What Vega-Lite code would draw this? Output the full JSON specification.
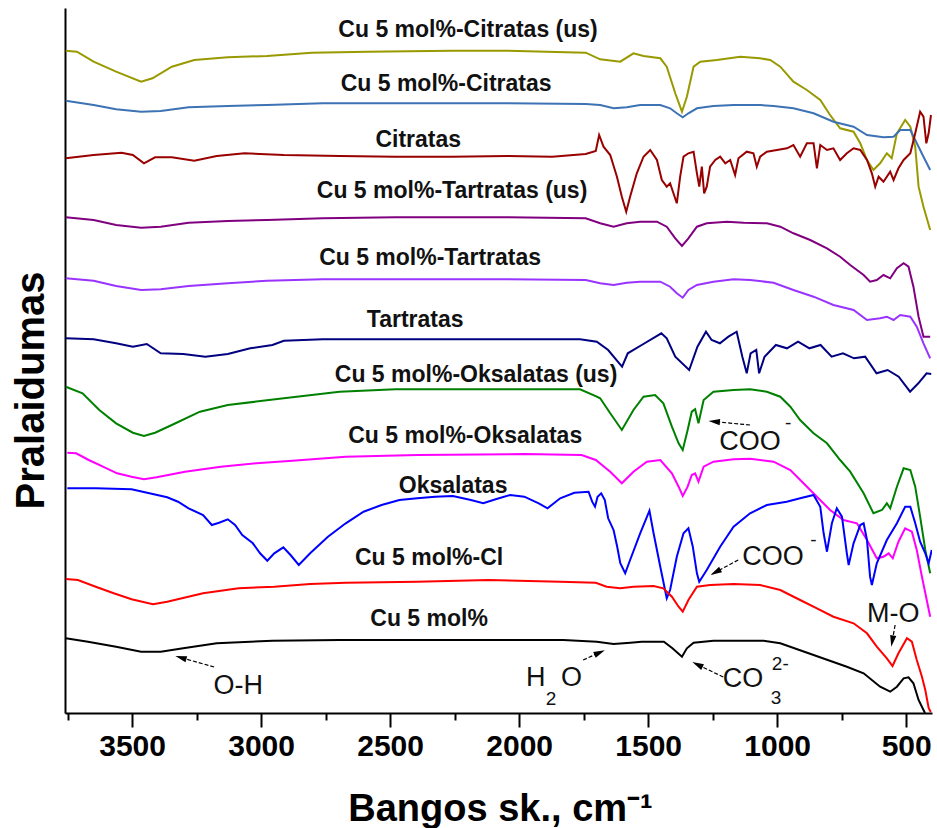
{
"$schema": "https://vega.github.io/schema/vega-lite/v6.json",
"width": 867, "height": 705,
"autosize": {"type": "none"},
"padding": {"left": 65, "top": 8, "right": 5, "bottom": 115},
"background": "white",
"config": {"view": {"stroke": null}, "font": "Liberation Sans"},
"datasets": {
"spectra": [
{"s":"Cu 5 mol%-Citratas (us)","x":3757,"y":662.3},{"s":"Cu 5 mol%-Citratas (us)","x":3714,"y":661.3},{"s":"Cu 5 mol%-Citratas (us)","x":3649,"y":651.3},{"s":"Cu 5 mol%-Citratas (us)","x":3562,"y":641.3},{"s":"Cu 5 mol%-Citratas (us)","x":3465,"y":631.3},{"s":"Cu 5 mol%-Citratas (us)","x":3421,"y":634.7},{"s":"Cu 5 mol%-Citratas (us)","x":3346,"y":646.3},{"s":"Cu 5 mol%-Citratas (us)","x":3259,"y":653},{"s":"Cu 5 mol%-Citratas (us)","x":3129,"y":655.7},{"s":"Cu 5 mol%-Citratas (us)","x":2977,"y":657},{"s":"Cu 5 mol%-Citratas (us)","x":2804,"y":660.3},{"s":"Cu 5 mol%-Citratas (us)","x":2587,"y":661.3},{"s":"Cu 5 mol%-Citratas (us)","x":2262,"y":662.3},{"s":"Cu 5 mol%-Citratas (us)","x":2045,"y":662.3},{"s":"Cu 5 mol%-Citratas (us)","x":1894,"y":661.3},{"s":"Cu 5 mol%-Citratas (us)","x":1742,"y":660.3},{"s":"Cu 5 mol%-Citratas (us)","x":1686,"y":653.7},{"s":"Cu 5 mol%-Citratas (us)","x":1608,"y":651.3},{"s":"Cu 5 mol%-Citratas (us)","x":1557,"y":659.7},{"s":"Cu 5 mol%-Citratas (us)","x":1518,"y":657},{"s":"Cu 5 mol%-Citratas (us)","x":1453,"y":654.7},{"s":"Cu 5 mol%-Citratas (us)","x":1428,"y":646.3},{"s":"Cu 5 mol%-Citratas (us)","x":1395,"y":619.7},{"s":"Cu 5 mol%-Citratas (us)","x":1369,"y":601.3},{"s":"Cu 5 mol%-Citratas (us)","x":1350,"y":616.3},{"s":"Cu 5 mol%-Citratas (us)","x":1324,"y":646.3},{"s":"Cu 5 mol%-Citratas (us)","x":1298,"y":651.3},{"s":"Cu 5 mol%-Citratas (us)","x":1234,"y":653},{"s":"Cu 5 mol%-Citratas (us)","x":1143,"y":656.3},{"s":"Cu 5 mol%-Citratas (us)","x":1066,"y":654.7},{"s":"Cu 5 mol%-Citratas (us)","x":1027,"y":653},{"s":"Cu 5 mol%-Citratas (us)","x":988,"y":646.3},{"s":"Cu 5 mol%-Citratas (us)","x":937,"y":631.3},{"s":"Cu 5 mol%-Citratas (us)","x":885,"y":623},{"s":"Cu 5 mol%-Citratas (us)","x":833,"y":613},{"s":"Cu 5 mol%-Citratas (us)","x":795,"y":598},{"s":"Cu 5 mol%-Citratas (us)","x":756,"y":584.7},{"s":"Cu 5 mol%-Citratas (us)","x":704,"y":581.3},{"s":"Cu 5 mol%-Citratas (us)","x":678,"y":569.7},{"s":"Cu 5 mol%-Citratas (us)","x":652,"y":553},{"s":"Cu 5 mol%-Citratas (us)","x":627,"y":543},{"s":"Cu 5 mol%-Citratas (us)","x":601,"y":549.7},{"s":"Cu 5 mol%-Citratas (us)","x":575,"y":559.7},{"s":"Cu 5 mol%-Citratas (us)","x":556,"y":554.7},{"s":"Cu 5 mol%-Citratas (us)","x":536,"y":579.7},{"s":"Cu 5 mol%-Citratas (us)","x":504,"y":593},{"s":"Cu 5 mol%-Citratas (us)","x":484,"y":586.3},{"s":"Cu 5 mol%-Citratas (us)","x":465,"y":566.3},{"s":"Cu 5 mol%-Citratas (us)","x":452,"y":526.3},{"s":"Cu 5 mol%-Citratas (us)","x":433,"y":506.3},{"s":"Cu 5 mol%-Citratas (us)","x":407,"y":483},

{"s":"Cu 5 mol%-Citratas","x":3757,"y":612.3},{"s":"Cu 5 mol%-Citratas","x":3649,"y":608},{"s":"Cu 5 mol%-Citratas","x":3562,"y":603.7},{"s":"Cu 5 mol%-Citratas","x":3465,"y":601.3},{"s":"Cu 5 mol%-Citratas","x":3389,"y":602},{"s":"Cu 5 mol%-Citratas","x":3281,"y":605.7},{"s":"Cu 5 mol%-Citratas","x":3129,"y":607},{"s":"Cu 5 mol%-Citratas","x":2977,"y":608},{"s":"Cu 5 mol%-Citratas","x":2761,"y":609.7},{"s":"Cu 5 mol%-Citratas","x":2479,"y":609.7},{"s":"Cu 5 mol%-Citratas","x":2045,"y":609.7},{"s":"Cu 5 mol%-Citratas","x":1742,"y":609},{"s":"Cu 5 mol%-Citratas","x":1686,"y":608},{"s":"Cu 5 mol%-Citratas","x":1634,"y":604.7},{"s":"Cu 5 mol%-Citratas","x":1583,"y":605.7},{"s":"Cu 5 mol%-Citratas","x":1531,"y":608},{"s":"Cu 5 mol%-Citratas","x":1453,"y":608},{"s":"Cu 5 mol%-Citratas","x":1415,"y":604.7},{"s":"Cu 5 mol%-Citratas","x":1389,"y":599.7},{"s":"Cu 5 mol%-Citratas","x":1366,"y":595.7},{"s":"Cu 5 mol%-Citratas","x":1344,"y":599.7},{"s":"Cu 5 mol%-Citratas","x":1311,"y":604.7},{"s":"Cu 5 mol%-Citratas","x":1247,"y":607},{"s":"Cu 5 mol%-Citratas","x":1169,"y":608},{"s":"Cu 5 mol%-Citratas","x":1066,"y":608},{"s":"Cu 5 mol%-Citratas","x":1014,"y":607},{"s":"Cu 5 mol%-Citratas","x":937,"y":604.7},{"s":"Cu 5 mol%-Citratas","x":859,"y":599.7},{"s":"Cu 5 mol%-Citratas","x":782,"y":591.3},{"s":"Cu 5 mol%-Citratas","x":704,"y":586.3},{"s":"Cu 5 mol%-Citratas","x":652,"y":578},{"s":"Cu 5 mol%-Citratas","x":588,"y":575.7},{"s":"Cu 5 mol%-Citratas","x":549,"y":576.3},{"s":"Cu 5 mol%-Citratas","x":523,"y":583},{"s":"Cu 5 mol%-Citratas","x":484,"y":583},{"s":"Cu 5 mol%-Citratas","x":465,"y":573},{"s":"Cu 5 mol%-Citratas","x":433,"y":556.3},{"s":"Cu 5 mol%-Citratas","x":407,"y":543},

{"s":"Citratas","x":3757,"y":554.7},{"s":"Citratas","x":3649,"y":558},{"s":"Citratas","x":3541,"y":560.3},{"s":"Citratas","x":3497,"y":558},{"s":"Citratas","x":3454,"y":549.7},{"s":"Citratas","x":3411,"y":555.7},{"s":"Citratas","x":3346,"y":555.7},{"s":"Citratas","x":3259,"y":552.3},{"s":"Citratas","x":3172,"y":557},{"s":"Citratas","x":3064,"y":559.7},{"s":"Citratas","x":2912,"y":558},{"s":"Citratas","x":2696,"y":557},{"s":"Citratas","x":2479,"y":556.3},{"s":"Citratas","x":2262,"y":556.3},{"s":"Citratas","x":2045,"y":557},{"s":"Citratas","x":1872,"y":556.3},{"s":"Citratas","x":1742,"y":559},{"s":"Citratas","x":1703,"y":562},{"s":"Citratas","x":1690,"y":578},{"s":"Citratas","x":1673,"y":566.3},{"s":"Citratas","x":1647,"y":558},{"s":"Citratas","x":1621,"y":536.3},{"s":"Citratas","x":1602,"y":516.3},{"s":"Citratas","x":1585,"y":501.3},{"s":"Citratas","x":1570,"y":516.3},{"s":"Citratas","x":1544,"y":539.7},{"s":"Citratas","x":1518,"y":556.3},{"s":"Citratas","x":1492,"y":563},{"s":"Citratas","x":1466,"y":553},{"s":"Citratas","x":1447,"y":533},{"s":"Citratas","x":1428,"y":526.3},{"s":"Citratas","x":1415,"y":529.7},{"s":"Citratas","x":1402,"y":519.7},{"s":"Citratas","x":1389,"y":509.7},{"s":"Citratas","x":1376,"y":536.3},{"s":"Citratas","x":1363,"y":556.3},{"s":"Citratas","x":1344,"y":559.7},{"s":"Citratas","x":1324,"y":561.3},{"s":"Citratas","x":1311,"y":539.7},{"s":"Citratas","x":1302,"y":526.3},{"s":"Citratas","x":1292,"y":546.3},{"s":"Citratas","x":1283,"y":519.7},{"s":"Citratas","x":1273,"y":526.3},{"s":"Citratas","x":1260,"y":546.3},{"s":"Citratas","x":1240,"y":553},{"s":"Citratas","x":1221,"y":556.3},{"s":"Citratas","x":1201,"y":549.7},{"s":"Citratas","x":1182,"y":553},{"s":"Citratas","x":1163,"y":538},{"s":"Citratas","x":1150,"y":554.7},{"s":"Citratas","x":1118,"y":561.3},{"s":"Citratas","x":1092,"y":559.7},{"s":"Citratas","x":1079,"y":546.3},{"s":"Citratas","x":1066,"y":556.3},{"s":"Citratas","x":1040,"y":561.3},{"s":"Citratas","x":1001,"y":563},{"s":"Citratas","x":962,"y":564.7},{"s":"Citratas","x":937,"y":568},{"s":"Citratas","x":911,"y":556.3},{"s":"Citratas","x":885,"y":569.7},{"s":"Citratas","x":859,"y":569.7},{"s":"Citratas","x":846,"y":544.7},{"s":"Citratas","x":833,"y":568},{"s":"Citratas","x":807,"y":563},{"s":"Citratas","x":782,"y":564.7},{"s":"Citratas","x":756,"y":553},{"s":"Citratas","x":730,"y":559.7},{"s":"Citratas","x":704,"y":564.7},{"s":"Citratas","x":678,"y":563},{"s":"Citratas","x":652,"y":553},{"s":"Citratas","x":633,"y":539.7},{"s":"Citratas","x":620,"y":526.3},{"s":"Citratas","x":607,"y":536.3},{"s":"Citratas","x":588,"y":531.3},{"s":"Citratas","x":562,"y":541.3},{"s":"Citratas","x":549,"y":533},{"s":"Citratas","x":530,"y":544.7},{"s":"Citratas","x":510,"y":553},{"s":"Citratas","x":484,"y":559.7},{"s":"Citratas","x":465,"y":579.7},{"s":"Citratas","x":446,"y":601.3},{"s":"Citratas","x":433,"y":596.3},{"s":"Citratas","x":422,"y":569.7},{"s":"Citratas","x":413,"y":579.7},{"s":"Citratas","x":404,"y":598},

{"s":"Cu 5 mol%-Tartratas (us)","x":3757,"y":495.7},{"s":"Cu 5 mol%-Tartratas (us)","x":3649,"y":493},{"s":"Cu 5 mol%-Tartratas (us)","x":3562,"y":488},{"s":"Cu 5 mol%-Tartratas (us)","x":3465,"y":485.3},{"s":"Cu 5 mol%-Tartratas (us)","x":3389,"y":486.3},{"s":"Cu 5 mol%-Tartratas (us)","x":3281,"y":490.3},{"s":"Cu 5 mol%-Tartratas (us)","x":3129,"y":492},{"s":"Cu 5 mol%-Tartratas (us)","x":2977,"y":493},{"s":"Cu 5 mol%-Tartratas (us)","x":2761,"y":494.7},{"s":"Cu 5 mol%-Tartratas (us)","x":2479,"y":495.7},{"s":"Cu 5 mol%-Tartratas (us)","x":2045,"y":495.7},{"s":"Cu 5 mol%-Tartratas (us)","x":1742,"y":494.7},{"s":"Cu 5 mol%-Tartratas (us)","x":1686,"y":489.7},{"s":"Cu 5 mol%-Tartratas (us)","x":1634,"y":486.3},{"s":"Cu 5 mol%-Tartratas (us)","x":1583,"y":489.7},{"s":"Cu 5 mol%-Tartratas (us)","x":1531,"y":491.3},{"s":"Cu 5 mol%-Tartratas (us)","x":1466,"y":491.3},{"s":"Cu 5 mol%-Tartratas (us)","x":1428,"y":486.3},{"s":"Cu 5 mol%-Tartratas (us)","x":1395,"y":474.7},{"s":"Cu 5 mol%-Tartratas (us)","x":1369,"y":467},{"s":"Cu 5 mol%-Tartratas (us)","x":1344,"y":474.7},{"s":"Cu 5 mol%-Tartratas (us)","x":1311,"y":486.3},{"s":"Cu 5 mol%-Tartratas (us)","x":1273,"y":489.7},{"s":"Cu 5 mol%-Tartratas (us)","x":1195,"y":491.3},{"s":"Cu 5 mol%-Tartratas (us)","x":1130,"y":490.3},{"s":"Cu 5 mol%-Tartratas (us)","x":1040,"y":489.7},{"s":"Cu 5 mol%-Tartratas (us)","x":988,"y":486.3},{"s":"Cu 5 mol%-Tartratas (us)","x":937,"y":479.7},{"s":"Cu 5 mol%-Tartratas (us)","x":872,"y":473},{"s":"Cu 5 mol%-Tartratas (us)","x":807,"y":464.7},{"s":"Cu 5 mol%-Tartratas (us)","x":756,"y":456.3},{"s":"Cu 5 mol%-Tartratas (us)","x":717,"y":448},{"s":"Cu 5 mol%-Tartratas (us)","x":665,"y":438},{"s":"Cu 5 mol%-Tartratas (us)","x":640,"y":431.3},{"s":"Cu 5 mol%-Tartratas (us)","x":614,"y":433},{"s":"Cu 5 mol%-Tartratas (us)","x":588,"y":438},{"s":"Cu 5 mol%-Tartratas (us)","x":562,"y":434.7},{"s":"Cu 5 mol%-Tartratas (us)","x":536,"y":444.7},{"s":"Cu 5 mol%-Tartratas (us)","x":510,"y":449.7},{"s":"Cu 5 mol%-Tartratas (us)","x":491,"y":446.3},{"s":"Cu 5 mol%-Tartratas (us)","x":472,"y":426.3},{"s":"Cu 5 mol%-Tartratas (us)","x":452,"y":396.3},{"s":"Cu 5 mol%-Tartratas (us)","x":433,"y":376.3},{"s":"Cu 5 mol%-Tartratas (us)","x":407,"y":376.3},

{"s":"Cu 5 mol%-Tartratas","x":3757,"y":434.7},{"s":"Cu 5 mol%-Tartratas","x":3649,"y":432.3},{"s":"Cu 5 mol%-Tartratas","x":3562,"y":427},{"s":"Cu 5 mol%-Tartratas","x":3465,"y":423},{"s":"Cu 5 mol%-Tartratas","x":3389,"y":423.7},{"s":"Cu 5 mol%-Tartratas","x":3281,"y":427},{"s":"Cu 5 mol%-Tartratas","x":3129,"y":429.7},{"s":"Cu 5 mol%-Tartratas","x":2977,"y":432.3},{"s":"Cu 5 mol%-Tartratas","x":2761,"y":433.7},{"s":"Cu 5 mol%-Tartratas","x":2479,"y":433.7},{"s":"Cu 5 mol%-Tartratas","x":2045,"y":433.7},{"s":"Cu 5 mol%-Tartratas","x":1742,"y":433},{"s":"Cu 5 mol%-Tartratas","x":1686,"y":429.7},{"s":"Cu 5 mol%-Tartratas","x":1634,"y":428},{"s":"Cu 5 mol%-Tartratas","x":1583,"y":430.3},{"s":"Cu 5 mol%-Tartratas","x":1531,"y":431.3},{"s":"Cu 5 mol%-Tartratas","x":1453,"y":431.3},{"s":"Cu 5 mol%-Tartratas","x":1415,"y":426.3},{"s":"Cu 5 mol%-Tartratas","x":1389,"y":419.7},{"s":"Cu 5 mol%-Tartratas","x":1366,"y":415.3},{"s":"Cu 5 mol%-Tartratas","x":1344,"y":423},{"s":"Cu 5 mol%-Tartratas","x":1311,"y":428},{"s":"Cu 5 mol%-Tartratas","x":1247,"y":431.3},{"s":"Cu 5 mol%-Tartratas","x":1169,"y":433.7},{"s":"Cu 5 mol%-Tartratas","x":1105,"y":433},{"s":"Cu 5 mol%-Tartratas","x":1014,"y":430.3},{"s":"Cu 5 mol%-Tartratas","x":937,"y":423},{"s":"Cu 5 mol%-Tartratas","x":859,"y":416.3},{"s":"Cu 5 mol%-Tartratas","x":782,"y":408},{"s":"Cu 5 mol%-Tartratas","x":704,"y":403},{"s":"Cu 5 mol%-Tartratas","x":652,"y":393},{"s":"Cu 5 mol%-Tartratas","x":601,"y":394.7},{"s":"Cu 5 mol%-Tartratas","x":575,"y":396.3},{"s":"Cu 5 mol%-Tartratas","x":549,"y":393},{"s":"Cu 5 mol%-Tartratas","x":523,"y":398},{"s":"Cu 5 mol%-Tartratas","x":484,"y":396.3},{"s":"Cu 5 mol%-Tartratas","x":459,"y":386.3},{"s":"Cu 5 mol%-Tartratas","x":433,"y":369.7},{"s":"Cu 5 mol%-Tartratas","x":407,"y":354.7},

{"s":"Tartratas","x":3757,"y":374.7},{"s":"Tartratas","x":3649,"y":373.7},{"s":"Tartratas","x":3562,"y":369.7},{"s":"Tartratas","x":3497,"y":366.3},{"s":"Tartratas","x":3443,"y":369},{"s":"Tartratas","x":3389,"y":359.7},{"s":"Tartratas","x":3302,"y":359},{"s":"Tartratas","x":3216,"y":356.3},{"s":"Tartratas","x":3129,"y":359},{"s":"Tartratas","x":3042,"y":364.7},{"s":"Tartratas","x":2956,"y":368},{"s":"Tartratas","x":2912,"y":372.3},{"s":"Tartratas","x":2761,"y":373.7},{"s":"Tartratas","x":2479,"y":373.7},{"s":"Tartratas","x":2045,"y":373.7},{"s":"Tartratas","x":1764,"y":373.7},{"s":"Tartratas","x":1699,"y":371.3},{"s":"Tartratas","x":1655,"y":363},{"s":"Tartratas","x":1612,"y":349.7},{"s":"Tartratas","x":1601,"y":346.3},{"s":"Tartratas","x":1579,"y":359.7},{"s":"Tartratas","x":1525,"y":368},{"s":"Tartratas","x":1449,"y":379.7},{"s":"Tartratas","x":1428,"y":374.7},{"s":"Tartratas","x":1395,"y":356.3},{"s":"Tartratas","x":1341,"y":343},{"s":"Tartratas","x":1309,"y":366.3},{"s":"Tartratas","x":1276,"y":381.3},{"s":"Tartratas","x":1254,"y":373},{"s":"Tartratas","x":1222,"y":369.7},{"s":"Tartratas","x":1189,"y":376.3},{"s":"Tartratas","x":1157,"y":381.3},{"s":"Tartratas","x":1135,"y":356.3},{"s":"Tartratas","x":1118,"y":339.7},{"s":"Tartratas","x":1103,"y":359.7},{"s":"Tartratas","x":1081,"y":363},{"s":"Tartratas","x":1070,"y":339.7},{"s":"Tartratas","x":1049,"y":356.3},{"s":"Tartratas","x":1005,"y":368},{"s":"Tartratas","x":962,"y":364.7},{"s":"Tartratas","x":919,"y":371.3},{"s":"Tartratas","x":875,"y":364.7},{"s":"Tartratas","x":832,"y":368},{"s":"Tartratas","x":789,"y":356.3},{"s":"Tartratas","x":745,"y":359.7},{"s":"Tartratas","x":702,"y":354.7},{"s":"Tartratas","x":659,"y":356.3},{"s":"Tartratas","x":615,"y":339.7},{"s":"Tartratas","x":572,"y":343},{"s":"Tartratas","x":529,"y":336.3},{"s":"Tartratas","x":485,"y":321.3},{"s":"Tartratas","x":453,"y":329.7},{"s":"Tartratas","x":421,"y":339.7},{"s":"Tartratas","x":403,"y":339},

{"s":"Cu 5 mol%-Oksalatas (us)","x":3757,"y":326.3},{"s":"Cu 5 mol%-Oksalatas (us)","x":3692,"y":319.7},{"s":"Cu 5 mol%-Oksalatas (us)","x":3627,"y":303},{"s":"Cu 5 mol%-Oksalatas (us)","x":3562,"y":289.7},{"s":"Cu 5 mol%-Oksalatas (us)","x":3497,"y":280.3},{"s":"Cu 5 mol%-Oksalatas (us)","x":3454,"y":277},{"s":"Cu 5 mol%-Oksalatas (us)","x":3411,"y":280.3},{"s":"Cu 5 mol%-Oksalatas (us)","x":3346,"y":288},{"s":"Cu 5 mol%-Oksalatas (us)","x":3237,"y":301.3},{"s":"Cu 5 mol%-Oksalatas (us)","x":3129,"y":308},{"s":"Cu 5 mol%-Oksalatas (us)","x":2912,"y":314.7},{"s":"Cu 5 mol%-Oksalatas (us)","x":2696,"y":321.3},{"s":"Cu 5 mol%-Oksalatas (us)","x":2479,"y":323.7},{"s":"Cu 5 mol%-Oksalatas (us)","x":2045,"y":323.7},{"s":"Cu 5 mol%-Oksalatas (us)","x":1764,"y":323.7},{"s":"Cu 5 mol%-Oksalatas (us)","x":1699,"y":316.3},{"s":"Cu 5 mol%-Oksalatas (us)","x":1686,"y":314.7},{"s":"Cu 5 mol%-Oksalatas (us)","x":1647,"y":299.7},{"s":"Cu 5 mol%-Oksalatas (us)","x":1602,"y":283},{"s":"Cu 5 mol%-Oksalatas (us)","x":1557,"y":303},{"s":"Cu 5 mol%-Oksalatas (us)","x":1518,"y":316.3},{"s":"Cu 5 mol%-Oksalatas (us)","x":1473,"y":318},{"s":"Cu 5 mol%-Oksalatas (us)","x":1441,"y":309.7},{"s":"Cu 5 mol%-Oksalatas (us)","x":1408,"y":286.3},{"s":"Cu 5 mol%-Oksalatas (us)","x":1382,"y":269.7},{"s":"Cu 5 mol%-Oksalatas (us)","x":1366,"y":263},{"s":"Cu 5 mol%-Oksalatas (us)","x":1347,"y":283},{"s":"Cu 5 mol%-Oksalatas (us)","x":1331,"y":301.3},{"s":"Cu 5 mol%-Oksalatas (us)","x":1318,"y":303.7},{"s":"Cu 5 mol%-Oksalatas (us)","x":1305,"y":289.7},{"s":"Cu 5 mol%-Oksalatas (us)","x":1285,"y":313},{"s":"Cu 5 mol%-Oksalatas (us)","x":1247,"y":321.3},{"s":"Cu 5 mol%-Oksalatas (us)","x":1169,"y":323},{"s":"Cu 5 mol%-Oksalatas (us)","x":1105,"y":323.7},{"s":"Cu 5 mol%-Oksalatas (us)","x":1040,"y":321.3},{"s":"Cu 5 mol%-Oksalatas (us)","x":988,"y":316.3},{"s":"Cu 5 mol%-Oksalatas (us)","x":949,"y":306.3},{"s":"Cu 5 mol%-Oksalatas (us)","x":911,"y":293},{"s":"Cu 5 mol%-Oksalatas (us)","x":859,"y":279.7},{"s":"Cu 5 mol%-Oksalatas (us)","x":807,"y":269.7},{"s":"Cu 5 mol%-Oksalatas (us)","x":756,"y":253},{"s":"Cu 5 mol%-Oksalatas (us)","x":717,"y":241.3},{"s":"Cu 5 mol%-Oksalatas (us)","x":665,"y":219.7},{"s":"Cu 5 mol%-Oksalatas (us)","x":627,"y":199.7},{"s":"Cu 5 mol%-Oksalatas (us)","x":594,"y":203},{"s":"Cu 5 mol%-Oksalatas (us)","x":575,"y":209.7},{"s":"Cu 5 mol%-Oksalatas (us)","x":562,"y":204.7},{"s":"Cu 5 mol%-Oksalatas (us)","x":536,"y":226.3},{"s":"Cu 5 mol%-Oksalatas (us)","x":510,"y":244.7},{"s":"Cu 5 mol%-Oksalatas (us)","x":484,"y":243},{"s":"Cu 5 mol%-Oksalatas (us)","x":465,"y":226.3},{"s":"Cu 5 mol%-Oksalatas (us)","x":446,"y":196.3},{"s":"Cu 5 mol%-Oksalatas (us)","x":426,"y":163},{"s":"Cu 5 mol%-Oksalatas (us)","x":407,"y":139.7},

{"s":"Cu 5 mol%-Oksalatas","x":3751,"y":260.3},{"s":"Cu 5 mol%-Oksalatas","x":3717,"y":259.7},{"s":"Cu 5 mol%-Oksalatas","x":3668,"y":253},{"s":"Cu 5 mol%-Oksalatas","x":3613,"y":246.3},{"s":"Cu 5 mol%-Oksalatas","x":3558,"y":239.7},{"s":"Cu 5 mol%-Oksalatas","x":3502,"y":236.3},{"s":"Cu 5 mol%-Oksalatas","x":3454,"y":233.7},{"s":"Cu 5 mol%-Oksalatas","x":3405,"y":235.7},{"s":"Cu 5 mol%-Oksalatas","x":3295,"y":241.3},{"s":"Cu 5 mol%-Oksalatas","x":3156,"y":246.3},{"s":"Cu 5 mol%-Oksalatas","x":3018,"y":249.7},{"s":"Cu 5 mol%-Oksalatas","x":2879,"y":252.3},{"s":"Cu 5 mol%-Oksalatas","x":2672,"y":256.3},{"s":"Cu 5 mol%-Oksalatas","x":2395,"y":258},{"s":"Cu 5 mol%-Oksalatas","x":1980,"y":259},{"s":"Cu 5 mol%-Oksalatas","x":1758,"y":258},{"s":"Cu 5 mol%-Oksalatas","x":1703,"y":253},{"s":"Cu 5 mol%-Oksalatas","x":1647,"y":241.3},{"s":"Cu 5 mol%-Oksalatas","x":1602,"y":229.7},{"s":"Cu 5 mol%-Oksalatas","x":1557,"y":241.3},{"s":"Cu 5 mol%-Oksalatas","x":1505,"y":251.3},{"s":"Cu 5 mol%-Oksalatas","x":1453,"y":253},{"s":"Cu 5 mol%-Oksalatas","x":1408,"y":239.7},{"s":"Cu 5 mol%-Oksalatas","x":1382,"y":226.3},{"s":"Cu 5 mol%-Oksalatas","x":1366,"y":217},{"s":"Cu 5 mol%-Oksalatas","x":1347,"y":226.3},{"s":"Cu 5 mol%-Oksalatas","x":1331,"y":238},{"s":"Cu 5 mol%-Oksalatas","x":1318,"y":239.7},{"s":"Cu 5 mol%-Oksalatas","x":1305,"y":231.3},{"s":"Cu 5 mol%-Oksalatas","x":1285,"y":246.3},{"s":"Cu 5 mol%-Oksalatas","x":1247,"y":251.3},{"s":"Cu 5 mol%-Oksalatas","x":1169,"y":253.7},{"s":"Cu 5 mol%-Oksalatas","x":1105,"y":254.3},{"s":"Cu 5 mol%-Oksalatas","x":1014,"y":251.3},{"s":"Cu 5 mol%-Oksalatas","x":949,"y":243},{"s":"Cu 5 mol%-Oksalatas","x":898,"y":229.7},{"s":"Cu 5 mol%-Oksalatas","x":846,"y":216.3},{"s":"Cu 5 mol%-Oksalatas","x":795,"y":203},{"s":"Cu 5 mol%-Oksalatas","x":743,"y":193},{"s":"Cu 5 mol%-Oksalatas","x":691,"y":189.7},{"s":"Cu 5 mol%-Oksalatas","x":652,"y":173},{"s":"Cu 5 mol%-Oksalatas","x":614,"y":154.7},{"s":"Cu 5 mol%-Oksalatas","x":588,"y":156.3},{"s":"Cu 5 mol%-Oksalatas","x":568,"y":159.7},{"s":"Cu 5 mol%-Oksalatas","x":552,"y":154.7},{"s":"Cu 5 mol%-Oksalatas","x":530,"y":171.3},{"s":"Cu 5 mol%-Oksalatas","x":504,"y":184.7},{"s":"Cu 5 mol%-Oksalatas","x":478,"y":181.3},{"s":"Cu 5 mol%-Oksalatas","x":459,"y":163},{"s":"Cu 5 mol%-Oksalatas","x":439,"y":136.3},{"s":"Cu 5 mol%-Oksalatas","x":407,"y":96.3},

{"s":"Oksalatas","x":3751,"y":224.7},{"s":"Oksalatas","x":3641,"y":224.7},{"s":"Oksalatas","x":3502,"y":223.7},{"s":"Oksalatas","x":3433,"y":219.7},{"s":"Oksalatas","x":3364,"y":215.7},{"s":"Oksalatas","x":3322,"y":211.3},{"s":"Oksalatas","x":3281,"y":204.7},{"s":"Oksalatas","x":3225,"y":198},{"s":"Oksalatas","x":3191,"y":188},{"s":"Oksalatas","x":3163,"y":190.3},{"s":"Oksalatas","x":3129,"y":193.7},{"s":"Oksalatas","x":3101,"y":188},{"s":"Oksalatas","x":3073,"y":178},{"s":"Oksalatas","x":3032,"y":169.7},{"s":"Oksalatas","x":3004,"y":159.7},{"s":"Oksalatas","x":2976,"y":152.3},{"s":"Oksalatas","x":2949,"y":159.7},{"s":"Oksalatas","x":2914,"y":165.7},{"s":"Oksalatas","x":2886,"y":158},{"s":"Oksalatas","x":2854,"y":148},{"s":"Oksalatas","x":2810,"y":159.7},{"s":"Oksalatas","x":2741,"y":176.3},{"s":"Oksalatas","x":2672,"y":189.7},{"s":"Oksalatas","x":2603,"y":201.3},{"s":"Oksalatas","x":2533,"y":208},{"s":"Oksalatas","x":2464,"y":213},{"s":"Oksalatas","x":2395,"y":214.7},{"s":"Oksalatas","x":2326,"y":216.3},{"s":"Oksalatas","x":2257,"y":217},{"s":"Oksalatas","x":2187,"y":213},{"s":"Oksalatas","x":2139,"y":209.7},{"s":"Oksalatas","x":2091,"y":213.7},{"s":"Oksalatas","x":2035,"y":218},{"s":"Oksalatas","x":1980,"y":216.3},{"s":"Oksalatas","x":1924,"y":209.7},{"s":"Oksalatas","x":1890,"y":204.7},{"s":"Oksalatas","x":1841,"y":214.7},{"s":"Oksalatas","x":1786,"y":220.3},{"s":"Oksalatas","x":1731,"y":221.3},{"s":"Oksalatas","x":1717,"y":211.3},{"s":"Oksalatas","x":1706,"y":206.3},{"s":"Oksalatas","x":1696,"y":216.3},{"s":"Oksalatas","x":1682,"y":219.7},{"s":"Oksalatas","x":1668,"y":213},{"s":"Oksalatas","x":1655,"y":194.7},{"s":"Oksalatas","x":1634,"y":183},{"s":"Oksalatas","x":1620,"y":166.3},{"s":"Oksalatas","x":1608,"y":149.7},{"s":"Oksalatas","x":1589,"y":139.7},{"s":"Oksalatas","x":1570,"y":153},{"s":"Oksalatas","x":1531,"y":179.7},{"s":"Oksalatas","x":1495,"y":202.3},{"s":"Oksalatas","x":1479,"y":179.7},{"s":"Oksalatas","x":1453,"y":146.3},{"s":"Oksalatas","x":1428,"y":114.7},{"s":"Oksalatas","x":1415,"y":123},{"s":"Oksalatas","x":1389,"y":156.3},{"s":"Oksalatas","x":1363,"y":179.7},{"s":"Oksalatas","x":1344,"y":184.7},{"s":"Oksalatas","x":1327,"y":166.3},{"s":"Oksalatas","x":1311,"y":139.7},{"s":"Oksalatas","x":1302,"y":131.3},{"s":"Oksalatas","x":1273,"y":143},{"s":"Oksalatas","x":1221,"y":166.3},{"s":"Oksalatas","x":1169,"y":186.3},{"s":"Oksalatas","x":1105,"y":199.7},{"s":"Oksalatas","x":1040,"y":208},{"s":"Oksalatas","x":963,"y":211.3},{"s":"Oksalatas","x":911,"y":214.7},{"s":"Oksalatas","x":859,"y":218},{"s":"Oksalatas","x":833,"y":206.3},{"s":"Oksalatas","x":820,"y":179.7},{"s":"Oksalatas","x":807,"y":161.3},{"s":"Oksalatas","x":788,"y":189.7},{"s":"Oksalatas","x":769,"y":204.7},{"s":"Oksalatas","x":749,"y":196.3},{"s":"Oksalatas","x":730,"y":159.7},{"s":"Oksalatas","x":723,"y":148},{"s":"Oksalatas","x":704,"y":169.7},{"s":"Oksalatas","x":678,"y":188},{"s":"Oksalatas","x":665,"y":189.7},{"s":"Oksalatas","x":652,"y":173},{"s":"Oksalatas","x":640,"y":136.3},{"s":"Oksalatas","x":633,"y":128},{"s":"Oksalatas","x":614,"y":149.7},{"s":"Oksalatas","x":575,"y":173},{"s":"Oksalatas","x":536,"y":189.7},{"s":"Oksalatas","x":504,"y":206.3},{"s":"Oksalatas","x":484,"y":206.3},{"s":"Oksalatas","x":465,"y":189.7},{"s":"Oksalatas","x":446,"y":171.3},{"s":"Oksalatas","x":426,"y":159.7},{"s":"Oksalatas","x":413,"y":149.7},{"s":"Oksalatas","x":401,"y":163},

{"s":"Cu 5 mol%-Cl","x":3757,"y":134},{"s":"Cu 5 mol%-Cl","x":3710,"y":133},{"s":"Cu 5 mol%-Cl","x":3641,"y":126.3},{"s":"Cu 5 mol%-Cl","x":3571,"y":119.7},{"s":"Cu 5 mol%-Cl","x":3502,"y":113.7},{"s":"Cu 5 mol%-Cl","x":3419,"y":108.7},{"s":"Cu 5 mol%-Cl","x":3364,"y":111.3},{"s":"Cu 5 mol%-Cl","x":3225,"y":119.7},{"s":"Cu 5 mol%-Cl","x":3087,"y":124.7},{"s":"Cu 5 mol%-Cl","x":2949,"y":126.3},{"s":"Cu 5 mol%-Cl","x":2810,"y":129},{"s":"Cu 5 mol%-Cl","x":2672,"y":130.3},{"s":"Cu 5 mol%-Cl","x":2395,"y":131.3},{"s":"Cu 5 mol%-Cl","x":2118,"y":133},{"s":"Cu 5 mol%-Cl","x":1841,"y":131.3},{"s":"Cu 5 mol%-Cl","x":1703,"y":130.3},{"s":"Cu 5 mol%-Cl","x":1661,"y":126.3},{"s":"Cu 5 mol%-Cl","x":1608,"y":124.7},{"s":"Cu 5 mol%-Cl","x":1557,"y":126.3},{"s":"Cu 5 mol%-Cl","x":1479,"y":127},{"s":"Cu 5 mol%-Cl","x":1441,"y":124.7},{"s":"Cu 5 mol%-Cl","x":1408,"y":116.3},{"s":"Cu 5 mol%-Cl","x":1382,"y":106.3},{"s":"Cu 5 mol%-Cl","x":1366,"y":101.3},{"s":"Cu 5 mol%-Cl","x":1344,"y":113},{"s":"Cu 5 mol%-Cl","x":1311,"y":126.3},{"s":"Cu 5 mol%-Cl","x":1260,"y":128},{"s":"Cu 5 mol%-Cl","x":1169,"y":129},{"s":"Cu 5 mol%-Cl","x":1066,"y":128},{"s":"Cu 5 mol%-Cl","x":988,"y":123},{"s":"Cu 5 mol%-Cl","x":911,"y":113},{"s":"Cu 5 mol%-Cl","x":846,"y":104.7},{"s":"Cu 5 mol%-Cl","x":782,"y":96.3},{"s":"Cu 5 mol%-Cl","x":704,"y":89.7},{"s":"Cu 5 mol%-Cl","x":652,"y":79.7},{"s":"Cu 5 mol%-Cl","x":614,"y":66.3},{"s":"Cu 5 mol%-Cl","x":575,"y":54.7},{"s":"Cu 5 mol%-Cl","x":553,"y":47},{"s":"Cu 5 mol%-Cl","x":530,"y":59.7},{"s":"Cu 5 mol%-Cl","x":497,"y":74.7},{"s":"Cu 5 mol%-Cl","x":478,"y":71.3},{"s":"Cu 5 mol%-Cl","x":459,"y":53},{"s":"Cu 5 mol%-Cl","x":439,"y":36.3},{"s":"Cu 5 mol%-Cl","x":426,"y":23},{"s":"Cu 5 mol%-Cl","x":413,"y":5},{"s":"Cu 5 mol%-Cl","x":405,"y":1},

{"s":"Cu 5 mol%","x":3757,"y":74.7},{"s":"Cu 5 mol%","x":3671,"y":71.3},{"s":"Cu 5 mol%","x":3562,"y":66.3},{"s":"Cu 5 mol%","x":3465,"y":61.3},{"s":"Cu 5 mol%","x":3389,"y":61.3},{"s":"Cu 5 mol%","x":3302,"y":64.7},{"s":"Cu 5 mol%","x":3172,"y":69.7},{"s":"Cu 5 mol%","x":2956,"y":72.3},{"s":"Cu 5 mol%","x":2696,"y":73},{"s":"Cu 5 mol%","x":2262,"y":73},{"s":"Cu 5 mol%","x":1829,"y":73},{"s":"Cu 5 mol%","x":1699,"y":71.3},{"s":"Cu 5 mol%","x":1634,"y":69},{"s":"Cu 5 mol%","x":1569,"y":70.3},{"s":"Cu 5 mol%","x":1525,"y":71.3},{"s":"Cu 5 mol%","x":1439,"y":71.3},{"s":"Cu 5 mol%","x":1406,"y":64.7},{"s":"Cu 5 mol%","x":1369,"y":56.3},{"s":"Cu 5 mol%","x":1350,"y":64.7},{"s":"Cu 5 mol%","x":1324,"y":70.3},{"s":"Cu 5 mol%","x":1247,"y":72.3},{"s":"Cu 5 mol%","x":1053,"y":72.3},{"s":"Cu 5 mol%","x":988,"y":69.7},{"s":"Cu 5 mol%","x":859,"y":58},{"s":"Cu 5 mol%","x":730,"y":46.3},{"s":"Cu 5 mol%","x":665,"y":39.7},{"s":"Cu 5 mol%","x":601,"y":26.3},{"s":"Cu 5 mol%","x":562,"y":21.3},{"s":"Cu 5 mol%","x":536,"y":26.3},{"s":"Cu 5 mol%","x":510,"y":34.7},{"s":"Cu 5 mol%","x":491,"y":35.7},{"s":"Cu 5 mol%","x":472,"y":29.7},{"s":"Cu 5 mol%","x":452,"y":13},{"s":"Cu 5 mol%","x":433,"y":3},{"s":"Cu 5 mol%","x":427,"y":0}
],
"labels": [
{"t":"Cu 5 mol%-Citratas (us)","x":2198,"y":683},
{"t":"Cu 5 mol%-Citratas","x":2283,"y":629},
{"t":"Citratas","x":2391,"y":573},
{"t":"Cu 5 mol%-Tartratas (us)","x":2260,"y":522},
{"t":"Cu 5 mol%-Tartratas","x":2345,"y":455},
{"t":"Tartratas","x":2403,"y":393},
{"t":"Cu 5 mol%-Oksalatas (us)","x":2167,"y":338},
{"t":"Cu 5 mol%-Oksalatas","x":2209,"y":277},
{"t":"Oksalatas","x":2256,"y":227},
{"t":"Cu 5 mol%-Cl","x":2349,"y":155},
{"t":"Cu 5 mol%","x":2349,"y":94}
],
"ann": [
{"t":"O-H","x":3089,"y":27,"k":"main"},
{"t":"H","x":1936,"y":35,"k":"main"},
{"t":"O","x":1797,"y":35,"k":"main"},
{"t":"CO","x":1132,"y":34,"k":"main"},
{"t":"M-O","x":550,"y":99,"k":"main"},
{"t":"COO","x":1016,"y":156,"k":"main"},
{"t":"COO","x":1105,"y":271,"k":"main"},
{"t":"2","x":1876,"y":14,"k":"script"},
{"t":"3","x":1004,"y":15,"k":"script"},
{"t":"2-","x":988,"y":49,"k":"script"},
{"t":"-","x":860,"y":173,"k":"script"},
{"t":"-","x":957,"y":290,"k":"script"}
],
"arrows": [
{"x":3182,"y":46,"x2":3311,"y2":55.4},
{"x":1752,"y":53,"x2":1688,"y2":60.5},
{"x":1209,"y":36,"x2":1309,"y2":48.4},
{"x":543,"y":88,"x2":554,"y2":71.9},
{"x":1151,"y":153,"x2":1239,"y2":140.8},
{"x":1105,"y":288,"x2":1244,"y2":291.4}
],
"heads": [
{"x":3311,"y":55.4,"ang":286},
{"x":1688,"y":60.5,"ang":66},
{"x":1309,"y":48.4,"ang":296},
{"x":554,"y":71.9,"ang":190},
{"x":1239,"y":140.8,"ang":242},
{"x":1244,"y":291.4,"ang":275}
]
},
"encoding": {
"x": {"field": "x", "type": "quantitative",
 "scale": {"domain": [400, 3760], "reverse": true, "nice": false, "zero": false},
 "axis": {"title": "Bangos sk., cm⁻¹", "titleFont": "Liberation Sans", "titleFontSize": 38, "titleFontWeight": "bold", "titleColor": "black",
  "titleX": 435, "titleY": 107, "titleBaseline": "alphabetic", "titleAlign": "center",
  "values": [3750,3500,3250,3000,2750,2500,2250,2000,1750,1500,1250,1000,750,500],
  "format": "d", "labelExpr": "datum.value % 500 === 0 ? datum.label : ''",
  "labelFont": "Liberation Sans", "labelFontSize": 30, "labelFontWeight": "bold", "labelColor": "black",
  "labelPadding": 4, "labelOverlap": false, "labelFlush": false,
  "tickSize": {"condition": {"test": "datum.value % 500 === 0", "value": 14}, "value": 7},
  "tickWidth": 2, "tickColor": "black", "domainColor": "black", "domainWidth": 2, "grid": false}},
"y": {"field": "y", "type": "quantitative",
 "scale": {"domain": [0, 705], "nice": false, "zero": false},
 "axis": {"title": "Pralaidumas", "labels": false, "ticks": false, "grid": false, "domainColor": "black", "domainWidth": 2,
  "titleFont": "Liberation Sans", "titleFontSize": 40, "titleFontWeight": "bold", "titleColor": "black",
  "titleAngle": 270, "titleX": -22, "titleY": 382, "titleBaseline": "alphabetic", "titleAlign": "center"}}
},
"layer": [
{"data": {"name": "spectra"}, "mark": {"type": "line", "strokeWidth": 2, "clip": true},
 "encoding": {"color": {"field": "s", "type": "nominal", "legend": null,
  "scale": {"domain": ["Cu 5 mol%-Citratas (us)","Cu 5 mol%-Citratas","Citratas","Cu 5 mol%-Tartratas (us)","Cu 5 mol%-Tartratas","Tartratas","Cu 5 mol%-Oksalatas (us)","Cu 5 mol%-Oksalatas","Oksalatas","Cu 5 mol%-Cl","Cu 5 mol%"],
   "range": ["#999900","#3D72B4","#990000","#800080","#9933FF","#000080","#008000","#FF00FF","#0000FF","#FF0000","#000000"]}}}},
{"data": {"name": "labels"}, "mark": {"type": "text", "fontSize": 23, "fontWeight": "bold", "color": "#111111", "font": "Liberation Sans"},
 "encoding": {"text": {"field": "t"}}},
{"data": {"name": "ann"}, "transform": [{"filter": "datum.k === 'main'"}],
 "mark": {"type": "text", "fontSize": 27, "color": "#111111", "font": "Liberation Sans"},
 "encoding": {"text": {"field": "t"}}},
{"data": {"name": "ann"}, "transform": [{"filter": "datum.k === 'script'"}],
 "mark": {"type": "text", "fontSize": 19, "color": "#111111", "font": "Liberation Sans"},
 "encoding": {"text": {"field": "t"}}},
{"data": {"name": "arrows"}, "mark": {"type": "rule", "strokeWidth": 1.2, "strokeDash": [4, 2], "color": "black"},
 "encoding": {"x2": {"field": "x2"}, "y2": {"field": "y2"}}},
{"data": {"name": "heads"}, "mark": {"type": "point", "shape": "M0,-1L0.55,1L-0.55,1Z", "filled": true, "color": "black", "size": 130, "opacity": 1},
 "encoding": {"angle": {"field": "ang", "type": "quantitative", "scale": null}}}
]
}
